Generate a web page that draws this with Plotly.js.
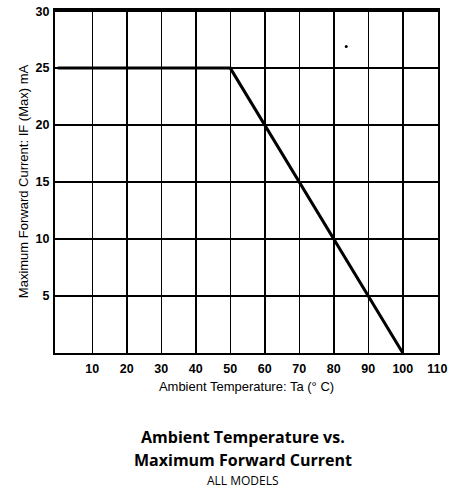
<!DOCTYPE html>
<html>
<head>
<meta charset="utf-8">
<script src="https://cdn.plot.ly/plotly-3.0.1.min.js"></script>
<style>
html,body{margin:0;padding:0;background:#fff;}
#chart{width:461px;height:494px;}
</style>
</head>
<body>
<div id="chart"></div>
<script>
// Derating curve: ambient temperature (°C) vs maximum forward current (mA)
const temperature = [0, 50, 100];
const maxCurrent = [25, 25, 0];
// small speck in the scanned figure
const speckX = [83.6];
const speckY = [26.9];
const xTicks = [10, 20, 30, 40, 50, 60, 70, 80, 90, 100, 110];
const yTicks = [5, 10, 15, 20, 25, 30];

const tickFont = {family: 'Liberation Sans, Arial, sans-serif', size: 12.5, color: '#000', weight: 'bold'};
const titleFont = {family: 'Liberation Sans, Arial, sans-serif', size: 13, color: '#000'};

const traces = [
  {x: temperature, y: maxCurrent, mode: 'lines', type: 'scatter',
   line: {color: '#000', width: 3}, hoverinfo: 'skip'},
  {x: speckX, y: speckY, mode: 'markers', type: 'scatter',
   marker: {color: '#000', size: 3}, hoverinfo: 'skip'}
];

const layout = {
  width: 461, height: 494,
  margin: {l: 55, r: 23, t: 10, b: 141},
  paper_bgcolor: '#fff', plot_bgcolor: '#fff',
  showlegend: false,
  xaxis: {
    range: [-0.8, 110.2], tickvals: xTicks, ticktext: xTicks.map(String),
    showgrid: true, gridcolor: '#000', gridwidth: 1.5,
    zeroline: false, showline: true, linecolor: '#000', linewidth: 2, mirror: true,
    ticks: '', tickfont: tickFont, ticklabelstandoff: 3,
    title: {text: 'Ambient Temperature: Ta (° C)', font: titleFont, standoff: 7}
  },
  yaxis: {
    range: [0, 30.1], tickvals: yTicks, ticktext: yTicks.map(String),
    showgrid: true, gridcolor: '#000', gridwidth: 1.5,
    zeroline: false, showline: true, linecolor: '#000', linewidth: 2, mirror: true,
    ticks: '', tickfont: tickFont, ticklabelstandoff: 1,
    title: {text: 'Maximum Forward Current: IF (Max) mA', font: titleFont, standoff: 4}
  },
  annotations: [
    {text: '<b>Ambient Temperature vs.</b>', xref: 'paper', yref: 'paper',
     x: 0.49, y: -0.245, xanchor: 'center', yanchor: 'middle', showarrow: false,
     font: {family: 'Open Sans, Lato, sans-serif', size: 16, color: '#000'}},
    {text: '<b>Maximum Forward Current</b>', xref: 'paper', yref: 'paper',
     x: 0.49, y: -0.312, xanchor: 'center', yanchor: 'middle', showarrow: false,
     font: {family: 'Open Sans, Lato, sans-serif', size: 16, color: '#000'}},
    {text: 'ALL MODELS', xref: 'paper', yref: 'paper',
     x: 0.49, y: -0.373, xanchor: 'center', yanchor: 'middle', showarrow: false,
     font: {family: 'Open Sans, Lato, sans-serif', size: 12, color: '#000'}}
  ]
};

Plotly.newPlot('chart', traces, layout, {displayModeBar: false, staticPlot: true});
</script>
</body>
</html>
